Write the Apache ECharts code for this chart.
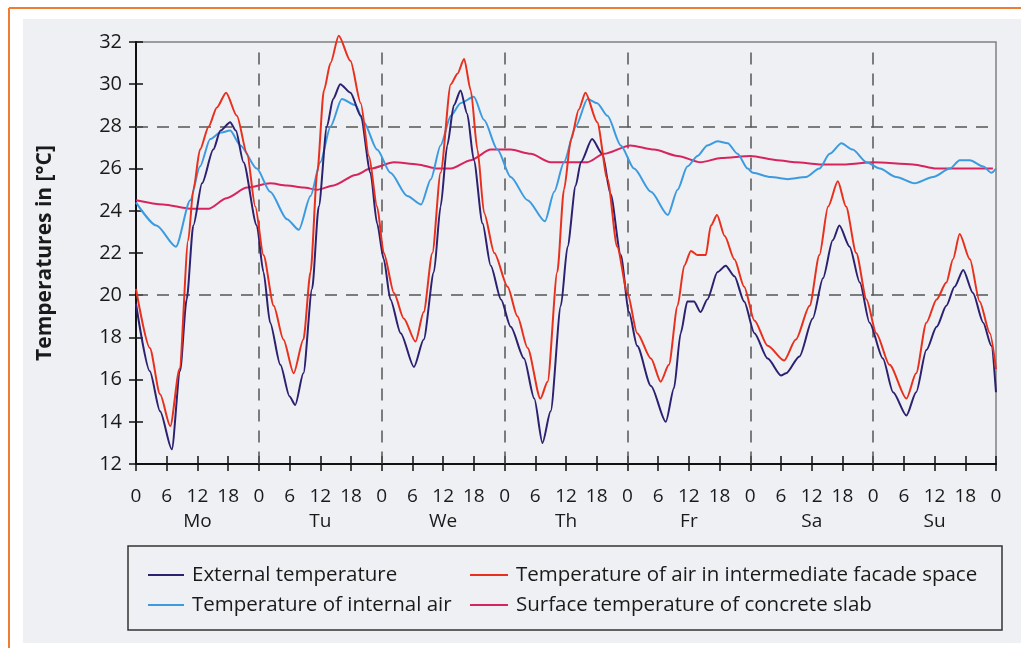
<!DOCTYPE html>
<html>
<head>
<meta charset="utf-8">
<script src="https://cdn.jsdelivr.net/npm/echarts@6/dist/echarts.min.js"></script>
<style>
  html, body { margin: 0; padding: 0; background: #ffffff; }
  #chart { width: 1021px; height: 648px; }
</style>
</head>
<body>
<div id="chart"></div>
<script>
// Hour-of-week values [hour, °C]; hour 0 = Monday 00:00
const dayNames = ['Mo', 'Tu', 'We', 'Th', 'Fr', 'Sa', 'Su'];
const gridTemps = [20, 28];
const dayBoundaries = [24, 48, 72, 96, 120, 144];

const externalTemp = [
  [0,19.6],[2.7,16.4],[4.7,14.5],[7,12.7],[8.6,16.4],[9.9,19.8],[11.2,23.3],[12.9,25.3],[15.1,26.9],[16.5,27.8],
  [18.4,28.2],[19.5,27.8],[21,26.3],[23.6,23.3],[24.9,21.1],[26.2,18.7],[28.2,16.7],[30,15.2],[31.1,14.8],[32.7,16.3],
  [34.4,20.3],[35.7,24.2],[37.3,28.0],[38.5,29.3],[39.9,30.0],[41.9,29.6],[43.9,28.5],[45.8,25.8],[47.1,23.4],[48.4,21.7],
  [49.7,19.8],[51.7,18.2],[54.3,16.6],[56.2,17.9],[58.2,21.1],[59.5,24.2],[60.8,27.1],[62.1,29.0],[63.4,29.7],[64.7,28.6],
  [66,26.4],[67.7,23.4],[69.3,21.4],[71.3,19.8],[73.2,18.5],[75.8,17.0],[77.8,15.1],[79.4,13.0],[81,14.5],[83,19.5],
  [84.3,22.3],[85.9,25.2],[86.9,26.3],[89.1,27.4],[91.1,26.7],[92.7,24.8],[94.7,21.9],[96.3,19.2],[97.9,17.6],[100.6,15.7],
  [103.5,14.0],[105.1,15.6],[106.4,18.2],[107.7,19.7],[109,19.7],[110.3,19.2],[111.6,19.8],[113.6,21.1],[115.2,21.4],[116.9,20.9],
  [118.8,19.7],[120.8,18.2],[123.4,17.0],[126,16.2],[127,16.3],[129.6,17.1],[132.2,18.9],[134.2,20.8],[136.1,22.6],[137.4,23.3],
  [139.4,22.3],[141.4,20.6],[143.3,18.7],[145.9,17.0],[147.9,15.4],[150.5,14.3],[152.4,15.4],[154.4,17.4],[156.4,18.5],[158.3,19.5],
  [159.9,20.4],[161.6,21.2],[163.5,20.1],[165.5,18.7],[167.1,17.6],[168,15.4]
];

const facadeAirTemp = [
  [0,20.3],[2.7,17.5],[4.7,15.3],[6.7,13.8],[8.5,16.5],[10.2,22.6],[11.2,25.0],[12.5,26.9],[14.2,28.0],[15.8,28.9],
  [17.6,29.6],[19.7,28.5],[21.7,26.7],[23.3,24.2],[24.9,21.9],[26.9,19.5],[28.8,17.9],[30.8,16.3],[32.7,17.9],[34.1,21.1],
  [35.4,25.8],[36.7,29.7],[38,31.0],[39.6,32.3],[41.9,31.1],[43.9,29.1],[45.5,26.6],[47.1,24.2],[48.4,22.0],[50.4,20.1],
  [52.3,18.9],[54.6,17.8],[56.2,19.2],[57.9,22.0],[59.5,25.8],[61.5,30.0],[62.8,30.5],[64.1,31.2],[65.4,29.7],[66.7,26.9],
  [68,23.9],[70,22.0],[72.6,20.4],[74.5,19.0],[76.5,17.5],[79,15.1],[80.4,15.9],[82.3,21.1],[83.6,25.0],[85,27.4],
  [86.5,28.8],[87.8,29.6],[90.1,28.2],[92.1,25.5],[94,22.3],[96,20.1],[97.9,18.2],[100.6,17.0],[102.5,15.9],[104.1,16.7],
  [105.8,19.5],[107.1,21.4],[108.4,22.1],[109.7,21.9],[111.3,21.9],[112.3,23.3],[113.5,23.8],[115,22.8],[116.9,21.7],[118.8,20.4],
  [120.8,18.8],[123.4,17.6],[126.6,16.9],[128.9,17.9],[131.6,19.5],[133.5,21.9],[135.2,24.2],[137.1,25.4],[138.7,24.2],[140.7,22.0],
  [142.7,19.8],[144.6,18.2],[147.2,16.7],[150.5,15.1],[152.4,16.3],[154.4,18.7],[156.4,19.8],[158.3,20.6],[159.6,21.7],[160.9,22.9],
  [162.9,21.7],[164.8,19.7],[166.8,18.2],[168,16.5]
];

const internalAirTemp = [
  [0,24.4],[4,23.3],[7.8,22.3],[10.6,24.5],[12.5,26.1],[14.5,27.4],[16.4,27.7],[18.4,27.8],[20.4,27.1],[23.6,26.0],
  [26.2,24.9],[29.5,23.6],[31.8,23.1],[34.1,24.7],[36,26.3],[38,28.0],[40.2,29.3],[42.9,29.0],[44.5,28.2],[47.1,26.9],
  [49.7,25.8],[53,24.7],[55.7,24.3],[57.6,25.5],[59.5,27.1],[61.5,28.5],[63.4,29.1],[66,29.4],[68,28.3],[70.6,26.9],
  [73.2,25.6],[76.5,24.5],[79.9,23.5],[81.7,24.9],[83.6,26.3],[85.9,28.0],[88.2,29.3],[90.1,29.1],[92.1,28.5],[94.7,27.1],
  [97.3,26.0],[100.6,24.9],[103.9,23.8],[105.8,25.0],[107.7,26.1],[109.7,26.6],[111.6,27.1],[113.6,27.3],[115.6,27.2],[117.5,26.7],
  [119.5,26.0],[120.5,25.8],[124,25.6],[127.3,25.5],[130.9,25.6],[133.5,26.0],[135.5,26.7],[137.8,27.2],[140,26.9],[142.7,26.3],
  [145.3,26.0],[148.5,25.6],[152.1,25.3],[155.7,25.6],[159,26.0],[160.9,26.4],[162.9,26.4],[165.5,26.1],[167.1,25.8],[168,26.0]
];

const slabSurfaceTemp = [
  [0,24.5],[5.3,24.3],[10.6,24.1],[14.2,24.1],[17.7,24.6],[21.7,25.1],[26.2,25.3],[29.5,25.2],[32.7,25.1],[35.4,25.0],
  [38.6,25.2],[42.9,25.7],[45.8,26.0],[50.4,26.3],[55,26.2],[58.9,26.0],[61.5,26.0],[65.4,26.4],[69.3,26.9],[73.2,26.9],
  [77.1,26.7],[81,26.3],[85.9,26.3],[88.2,26.3],[91.4,26.7],[96.6,27.1],[101.2,26.9],[105.8,26.6],[110.3,26.3],[114.3,26.5],
  [120.1,26.6],[125.3,26.4],[128.9,26.3],[133.5,26.2],[138.7,26.2],[144,26.3],[151.8,26.2],[156.4,26.0],[161.6,26.0],[167.4,26.0]
];

const FONT = '"Open Sans", "Noto Sans", sans-serif';
const INK = '#1a1a1a';

const chart = echarts.init(document.getElementById('chart'), null, { renderer: 'canvas' });

const refLines = gridTemps.map(t => ({ yAxis: t }))
  .concat(dayBoundaries.map(h => [{ coord: [h, 31.5] }, { coord: [h, 12] }]));

const lineSeries = (name, data, color) => ({
  name, type: 'line', data, symbol: 'none', showSymbol: false,
  xAxisIndex: 0, yAxisIndex: 0, clip: false,
  smooth: 0.25, smoothMonotone: 'x',
  lineStyle: { color, width: 2 }, itemStyle: { color },
  animation: false, z: 5
});

const legendText = { fontSize: 20.5, lineHeight: 22, color: INK, fontFamily: FONT, padding: [0, 0, 0, 3] };

chart.setOption({
  animation: false,
  backgroundColor: '#ffffff',
  textStyle: { fontFamily: FONT },
  graphic: [
    { type: 'rect', z: -20, silent: true, shape: { x: 23, y: 19, width: 998, height: 624 }, style: { fill: '#eef0f3' } },
    { type: 'line', z: -10, silent: true, shape: { x1: 9, y1: 8, x2: 1021, y2: 8 }, style: { stroke: '#ee7d31', lineWidth: 2 } },
    { type: 'line', z: -10, silent: true, shape: { x1: 9, y1: 8, x2: 9, y2: 648 }, style: { stroke: '#ee7d31', lineWidth: 2 } },
    { type: 'rect', z: 10, silent: true, shape: { x: 128, y: 546, width: 874, height: 84 }, style: { fill: 'none', stroke: '#333333', lineWidth: 1.5 } }
  ],
  grid: { left: 136, top: 42, width: 860, height: 422, show: true, borderColor: '#808080', borderWidth: 1.5, backgroundColor: 'transparent' },
  xAxis: [
    {
      type: 'value', min: 0, max: 168, interval: 6, position: 'bottom',
      axisLine: { show: true, onZero: false, lineStyle: { color: '#111', width: 2 } },
      axisTick: { show: true, inside: false, length: 7, lineStyle: { color: '#111', width: 1.5 } },
      splitLine: { show: false },
      axisLabel: {
        margin: 20, color: INK, fontSize: 19, lineHeight: 25, fontFamily: FONT,
        formatter: v => {
          const h = v % 24;
          const d = Math.floor(v / 24);
          return (h === 12 && d < 7) ? h + '\n{d|' + dayNames[d] + '}' : String(h);
        },
        rich: { d: { fontSize: 19, lineHeight: 25, color: INK, fontFamily: FONT } }
      }
    },
    {
      type: 'value', min: 0, max: 168, interval: 6, position: 'bottom',
      axisLine: { show: false }, axisLabel: { show: false }, splitLine: { show: false },
      axisTick: { show: true, inside: true, length: 8, lineStyle: { color: '#111', width: 1.5 } }
    }
  ],
  yAxis: [
    {
      type: 'value', min: 12, max: 32, interval: 2, position: 'left',
      name: 'Temperatures in [°C]', nameLocation: 'middle', nameGap: 80, nameRotate: 90,
      nameTextStyle: { fontSize: 21, fontWeight: 'bold', color: INK, fontFamily: FONT },
      axisLine: { show: true, onZero: false, lineStyle: { color: '#111', width: 2 } },
      axisTick: { show: true, inside: false, length: 7, lineStyle: { color: '#111', width: 1.5 } },
      splitLine: { show: false },
      axisLabel: { margin: 14, color: INK, fontSize: 20, fontFamily: FONT }
    },
    {
      type: 'value', min: 12, max: 32, interval: 2, position: 'left',
      axisLine: { show: false }, axisLabel: { show: false }, splitLine: { show: false },
      axisTick: { show: true, inside: true, length: 7, lineStyle: { color: '#111', width: 1.5 } }
    }
  ],
  legend: [
    {
      orient: 'vertical', left: 143, top: 559, itemWidth: 36, itemHeight: 2, itemGap: 8, icon: 'rect',
      data: ['External temperature', 'Temperature of internal air'],
      textStyle: legendText
    },
    {
      orient: 'vertical', left: 465, top: 559, itemWidth: 38, itemHeight: 2, itemGap: 8, icon: 'rect',
      data: ['Temperature of air in intermediate facade space', 'Surface temperature of concrete slab'],
      textStyle: legendText
    }
  ],
  series: [
    Object.assign(lineSeries('Surface temperature of concrete slab', slabSurfaceTemp, '#d8245d'), {
      markLine: {
        silent: true, symbol: 'none', animation: false,
        label: { show: false },
        lineStyle: { color: '#555555', width: 1.5, type: [12, 9] },
        data: refLines,
        z: 1
      }
    }),
    lineSeries('Temperature of internal air', internalAirTemp, '#3c9be0'),
    lineSeries('External temperature', externalTemp, '#2b2170'),
    lineSeries('Temperature of air in intermediate facade space', facadeAirTemp, '#e8301d')
  ]
});
</script>
</body>
</html>
